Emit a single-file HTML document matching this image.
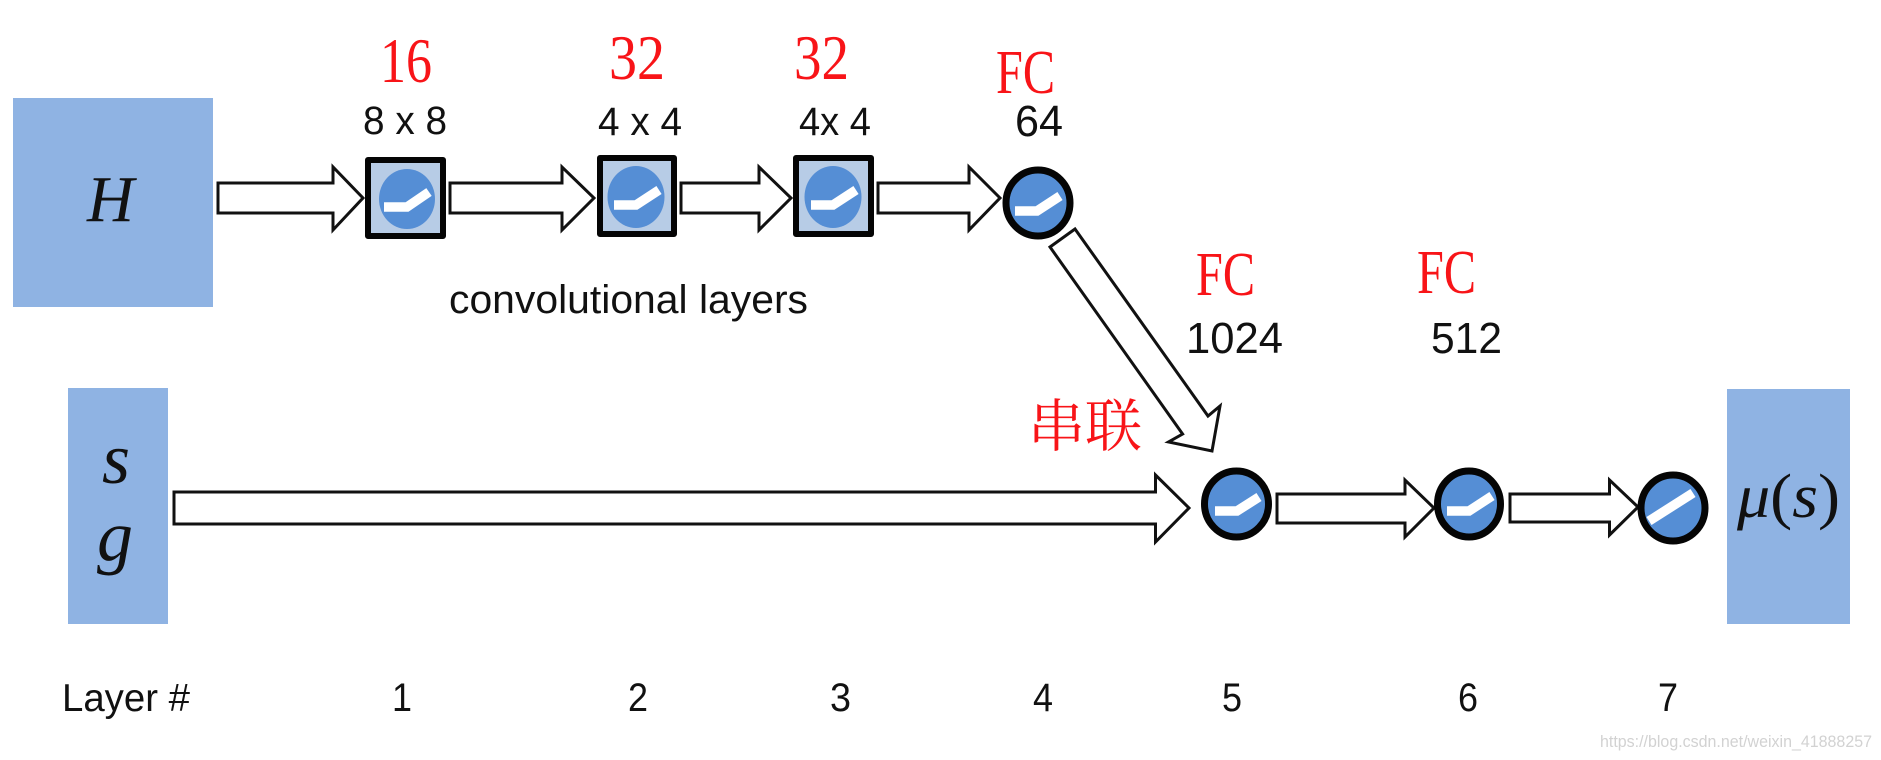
<!DOCTYPE html>
<html>
<head>
<meta charset="utf-8">
<style>
html,body{margin:0;padding:0;background:#fff;width:1881px;height:760px;overflow:hidden}
svg{display:block}
.b{font-family:"Liberation Sans",sans-serif;fill:#111}
.r{font-family:"Liberation Serif",serif;fill:#f81418}
.m{font-family:"Liberation Serif",serif;font-style:italic;fill:#111}
.arrow{fill:#fff;stroke:#111;stroke-width:3;stroke-linejoin:miter}
.ic{fill:none;stroke:#fff;stroke-width:9.5}
.c{fill:#558ed5;stroke:#050505;stroke-width:7}
.blk{fill:#b7cce6;stroke:#050505;stroke-width:6;stroke-linejoin:round}
.d{fill:#558ed5}
.box{fill:#8fb3e3}
</style>
</head>
<body>
<svg width="1881" height="760" viewBox="0 0 1881 760" xmlns="http://www.w3.org/2000/svg">
<rect width="1881" height="760" fill="#fff"/>

<rect class="box" x="13" y="98" width="200" height="209"/>
<rect class="box" x="68" y="388" width="100" height="236"/>
<rect class="box" x="1727" y="389" width="123" height="235"/>

<polygon class="arrow" points="218,183 333,183 333,167 363,198 333,230 333,213 218,213"/>
<polygon class="arrow" points="450,183 562,183 562,167 594,198 562,230 562,213 450,213"/>
<polygon class="arrow" points="681,183 759,183 759,167 791,198 759,230 759,213 681,213"/>
<polygon class="arrow" points="878,183 969,183 969,167 1000,198 969,230 969,213 878,213"/>
<polygon class="arrow" points="1050,247 1075,229 1208,416 1220,406 1212,451 1168.5,442 1182.6,434" stroke-width="2.5"/>
<polygon class="arrow" points="174,492 1155.5,492 1155.5,475 1189,508 1155.5,542 1155.5,524 174,524"/>
<polygon class="arrow" points="1277,494 1405,494 1405,480 1434,508 1405,537 1405,523 1277,523"/>
<polygon class="arrow" points="1510,494 1609.5,494 1609.5,480 1638,507 1609.5,535 1609.5,522 1510,522"/>

<rect class="blk" x="368" y="160" width="75" height="76"/>
<ellipse class="d" cx="407" cy="199" rx="28" ry="30"/>
<polyline class="ic" points="384,207 407,207 429,192"/>

<rect class="blk" x="600" y="158" width="74" height="76"/>
<ellipse class="d" cx="636" cy="197" rx="28.5" ry="31"/>
<polyline class="ic" points="614,205 636,205 659,190"/>

<rect class="blk" x="796" y="158" width="75" height="76"/>
<ellipse class="d" cx="833" cy="197" rx="28.5" ry="31"/>
<polyline class="ic" points="811,205 833,205 856,190"/>

<ellipse class="c" cx="1038" cy="203" rx="32" ry="33"/>
<polyline class="ic" points="1015,211 1037,211 1060,196"/>

<ellipse class="c" cx="1236.5" cy="504" rx="32" ry="33"/>
<polyline class="ic" points="1215,511 1237,511 1259,497"/>

<ellipse class="c" cx="1469" cy="504" rx="31.5" ry="33"/>
<polyline class="ic" points="1447,511 1469,511 1492,496"/>

<ellipse class="c" cx="1673" cy="508" rx="32" ry="33"/>
<line class="ic" x1="1649" y1="521" x2="1693" y2="493"/>

<text class="r" x="380" y="82" font-size="63" textLength="52" lengthAdjust="spacingAndGlyphs">16</text>
<text class="r" x="609" y="79" font-size="63" textLength="56" lengthAdjust="spacingAndGlyphs">32</text>
<text class="r" x="794" y="79" font-size="63" textLength="55" lengthAdjust="spacingAndGlyphs">32</text>
<text class="r" x="996" y="93" font-size="62" textLength="59" lengthAdjust="spacingAndGlyphs">FC</text>
<text class="r" x="1196" y="295" font-size="62" textLength="59" lengthAdjust="spacingAndGlyphs">FC</text>
<text class="r" x="1417" y="293" font-size="62" textLength="59" lengthAdjust="spacingAndGlyphs">FC</text>
<text x="1028" y="446" font-size="57" font-family="'Liberation Serif','Noto Serif CJK SC',serif" fill="#f81418">串联</text>

<text class="b" x="363" y="134" font-size="40" textLength="84" lengthAdjust="spacingAndGlyphs">8 x 8</text>
<text class="b" x="598" y="135" font-size="40" textLength="84" lengthAdjust="spacingAndGlyphs">4 x 4</text>
<text class="b" x="799" y="135" font-size="40" textLength="72" lengthAdjust="spacingAndGlyphs">4x 4</text>
<text class="b" x="1015" y="136" font-size="44" textLength="48" lengthAdjust="spacingAndGlyphs">64</text>
<text class="b" x="1186" y="353" font-size="44" textLength="97" lengthAdjust="spacingAndGlyphs">1024</text>
<text class="b" x="1431" y="353" font-size="44" textLength="71" lengthAdjust="spacingAndGlyphs">512</text>
<text class="b" x="449" y="313" font-size="40" textLength="359" lengthAdjust="spacingAndGlyphs">convolutional layers</text>

<text class="b" x="62" y="711" font-size="39" textLength="128" lengthAdjust="spacingAndGlyphs">Layer #</text>
<text class="b" x="392" y="711" font-size="40" textLength="20" lengthAdjust="spacingAndGlyphs">1</text>
<text class="b" x="628" y="711" font-size="40" textLength="20" lengthAdjust="spacingAndGlyphs">2</text>
<text class="b" x="830" y="711" font-size="40" textLength="21" lengthAdjust="spacingAndGlyphs">3</text>
<text class="b" x="1033" y="711" font-size="40" textLength="20" lengthAdjust="spacingAndGlyphs">4</text>
<text class="b" x="1222" y="711" font-size="40" textLength="20" lengthAdjust="spacingAndGlyphs">5</text>
<text class="b" x="1458" y="711" font-size="40" textLength="20" lengthAdjust="spacingAndGlyphs">6</text>
<text class="b" x="1658" y="711" font-size="40" textLength="20" lengthAdjust="spacingAndGlyphs">7</text>

<text class="m" x="87" y="221" font-size="66" textLength="47" lengthAdjust="spacingAndGlyphs">H</text>
<text class="m" x="102" y="483" font-size="72">s</text>
<text class="m" x="97" y="560" font-size="72">g</text>
<text class="m" x="1737" y="517" font-size="62" textLength="103" lengthAdjust="spacingAndGlyphs">μ<tspan font-style="normal">(</tspan>s<tspan font-style="normal">)</tspan></text>

<text x="1600" y="747" font-family="'Liberation Sans',sans-serif" font-size="17" fill="#d2d2d2" textLength="272" lengthAdjust="spacingAndGlyphs">https://blog.csdn.net/weixin_41888257</text>
</svg>
</body>
</html>
